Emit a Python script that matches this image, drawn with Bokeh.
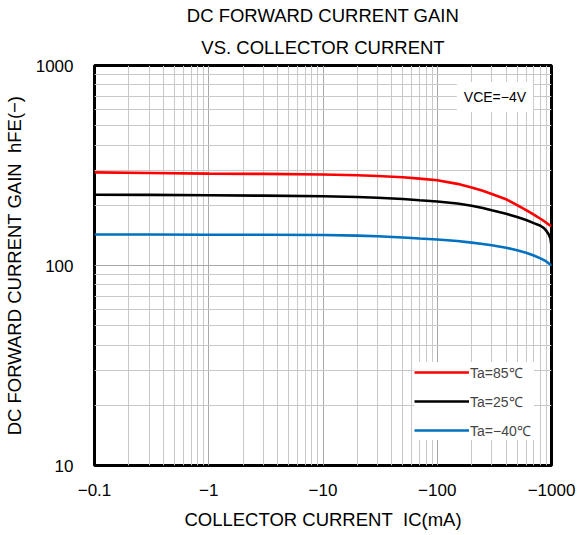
from bokeh.plotting import figure
from bokeh.models import FixedTicker, Title, Label, Legend, LegendItem
from bokeh.embed import file_html
from bokeh.resources import INLINE

# ---- data ----
ic_ma = [0.1, 0.3, 1, 3, 10, 20, 30, 50, 70, 100, 150, 200, 250, 300, 400, 500, 600, 700,
         800, 850, 900, 950, 980, 1000]
hfe_85 = [292, 290, 288, 287, 285, 282.5, 280, 276, 272, 267, 256, 245.7, 236.5, 228, 214.4,
          200.2, 189.1, 179.6, 171.3, 167.4, 163.7, 160, 158.2, 157]
hfe_25 = [226, 225.5, 224.5, 223.5, 222, 220, 218, 215, 212, 209, 204.1, 199, 194, 188.7,
          181.6, 174.6, 168.7, 162.9, 158.1, 154.5, 149.3, 142.5, 135.8, 124.5]
hfe_m40 = [143, 143, 142.5, 142.5, 142, 141, 140, 138, 136.5, 135, 132.7, 130.1, 128, 126.2,
           122.7, 119.3, 115.8, 112.2, 108.5, 106.7, 104.8, 102.3, 101, 100]

series_labels = ["Ta=85℃", "Ta=25℃", "Ta=−40℃"]
series_colors = ["#ff0000", "#000000", "#0070c0"]

x_ticks = [0.1, 1, 10, 100, 1000]
x_tick_labels = ["−0.1", "−1", "−10", "−100", "−1000"]
y_ticks = [10, 100, 1000]
y_tick_labels = ["10", "100", "1000"]

title_lines = ["DC FORWARD CURRENT GAIN", "VS. COLLECTOR CURRENT"]
x_title = "COLLECTOR CURRENT\u00a0 IC(mA)"
y_title = "DC FORWARD CURRENT GAIN\u00a0 hFE(−)"
cond_text = "VCE=−4V"

FONT = "Liberation Sans"

x_minor = [m * 10.0 ** k for k in range(-1, 3) for m in range(2, 10)]
y_minor = [m * 10.0 ** k for k in range(1, 3) for m in range(2, 10)]

p = figure(frame_width=457, frame_height=400, x_axis_type="log", y_axis_type="log",
           x_range=(0.1, 1000), y_range=(10, 1000),
           output_backend="svg", toolbar_location=None,
           min_border_left=85, min_border_right=25,
           min_border_top=57, min_border_bottom=62)

p.outline_line_color = "black"
p.outline_line_width = 3
p.background_fill_color = "white"
p.border_fill_color = "white"

p.xaxis.ticker = FixedTicker(ticks=x_ticks, minor_ticks=x_minor)
p.yaxis.ticker = FixedTicker(ticks=y_ticks, minor_ticks=y_minor)
p.xaxis.major_label_overrides = {t: l for t, l in zip(x_ticks, x_tick_labels)}
p.yaxis.major_label_overrides = {t: l for t, l in zip(y_ticks, y_tick_labels)}

for ax in (p.xaxis, p.yaxis):
    ax.major_tick_line_color = None
    ax.minor_tick_line_color = None
    ax.axis_line_color = None
    ax.major_label_text_font = FONT
    ax.major_label_text_font_size = "17px"
    ax.major_label_text_color = "black"
    ax.axis_label_text_font = FONT
    ax.axis_label_text_font_size = "18.5px"
    ax.axis_label_text_font_style = "normal"
    ax.axis_label_text_color = "black"

p.xaxis.major_label_standoff = 12
p.yaxis.major_label_standoff = 15
p.xaxis.axis_label = x_title
p.yaxis.axis_label = y_title
p.xaxis.axis_label_standoff = 10
p.yaxis.axis_label_standoff = 8

for g in (p.xgrid, p.ygrid):
    g.grid_line_color = "#a8a8a8"
    g.grid_line_width = 1
    g.minor_grid_line_color = "#c8c8c8"
    g.minor_grid_line_width = 1

renderers = []
for ys, c in zip([hfe_85, hfe_25, hfe_m40], series_colors):
    r = p.line(ic_ma, ys, line_color=c, line_width=2.6)
    renderers.append(r)

legend = Legend(items=[LegendItem(label=l, renderers=[r]) for l, r in zip(series_labels, renderers)],
                location=(320, 25))
legend.background_fill_color = "white"
legend.background_fill_alpha = 1
legend.border_line_color = None
legend.label_text_font = FONT
legend.label_text_font_size = "14px"
legend.glyph_width = 55
legend.glyph_height = 20
legend.label_height = 20
legend.label_width = 64
legend.label_standoff = 1
legend.spacing = 9
legend.padding = 6
legend.margin = 0
p.add_layout(legend)

p.add_layout(Label(x=320, y=695, text=cond_text, text_align="center", text_baseline="middle",
                   text_font=FONT, text_font_size="14px", text_color="black",
                   background_fill_color="white", padding=7))

p.title = None
p.add_layout(Title(text=title_lines[1], align="center", text_font=FONT, text_font_size="18.5px",
                   text_font_style="normal", text_color="black", standoff=15), "above")
p.add_layout(Title(text=title_lines[0], align="center", text_font=FONT, text_font_size="18.5px",
                   text_font_style="normal", text_color="black", standoff=4), "above")

open("out.html", "w").write(file_html(p, INLINE))
